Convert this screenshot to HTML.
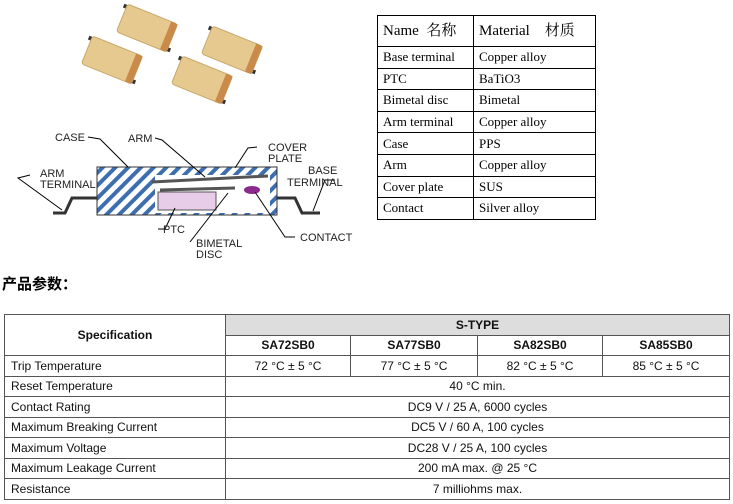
<!DOCTYPE html>
<html><head><meta charset="utf-8"><style>
body{margin:0;width:733px;height:504px;background:#fff;position:relative;overflow:hidden;font-family:"Liberation Sans",sans-serif}
.t1{position:absolute;left:377px;top:15px;border-collapse:collapse;font-family:"Liberation Serif","Noto Serif CJK SC",serif;font-size:13px}
.t1 td{border:1px solid #000;padding:0 0 0 5px;height:20.6px;line-height:14px}
.t1 tr:first-child td{height:30px;font-size:15px}
.t2{position:absolute;left:4px;top:314px;border-collapse:collapse;font-size:12px;color:#111}
.t2 td{border:1px solid #555;height:19.5px;padding:0;text-align:center}
.t2 td.l{text-align:left;padding-left:6px}
.t2 .h{font-weight:bold;background:#ddd}
</style></head><body>
<svg width="370" height="270" style="position:absolute;left:0;top:0" font-family="Liberation Sans" font-size="11">
<defs><pattern id="hp" width="9" height="9" patternUnits="userSpaceOnUse" patternTransform="rotate(45)"><rect width="9" height="9" fill="#fff"/><rect width="4" height="9" fill="#3d6fb0"/></pattern>
<g id="chip"><rect x="-30" y="-14" width="6" height="4" fill="#333"/><rect x="24" y="10" width="6" height="4" fill="#333"/><rect x="-27" y="-15" width="54" height="30" rx="3" fill="#e6c98e" stroke="#c9a86a"/><rect x="20" y="-15" width="7" height="30" fill="#c98a4a"/></g></defs>
<use href="#chip" transform="translate(147,28) rotate(22)"/>
<use href="#chip" transform="translate(232,50) rotate(22)"/>
<use href="#chip" transform="translate(112,60) rotate(22)"/>
<use href="#chip" transform="translate(202,80) rotate(22)"/>
<rect x="97" y="167" width="180" height="48" fill="url(#hp)" stroke="#333"/>
<rect x="155" y="175" width="115" height="38" fill="#fff"/>
<rect x="158" y="192" width="58" height="18" fill="#e8cde8" stroke="#555"/>
<path d="M152 182 L268 176 M160 190 L235 188" stroke="#555" stroke-width="3" fill="none"/>
<ellipse cx="252" cy="190" rx="8" ry="4" fill="#8a2a8a"/>
<path d="M53 213 H65 L72 198 H97 M277 198 H295 L302 213 H320" stroke="#333" stroke-width="3" fill="none"/>
<g stroke="#000" fill="none"><path d="M88 137 L100 139 L128 167"/><path d="M155 138 L162 140 L205 177"/><path d="M257 147 L248 148 L235 168"/><path d="M335 180 L325 180 L313 211"/><path d="M30 175 L18 178 L62 210"/><path d="M158 229 L165 229 L175 208"/><path d="M190 242 L228 193"/><path d="M295 237 L285 237 L255 192"/></g>
<g fill="#222"><text x="55" y="141">CASE</text><text x="128" y="142">ARM</text><text x="268" y="151">COVER</text><text x="268" y="162">PLATE</text><text x="308" y="174">BASE</text><text x="287" y="186">TERMINAL</text><text x="40" y="177">ARM</text><text x="40" y="188">TERMINAL</text><text x="163" y="233">PTC</text><text x="196" y="247">BIMETAL</text><text x="196" y="258">DISC</text><text x="300" y="241">CONTACT</text></g>
</svg>
<table class="t1">
<tr><td style="width:90px">Name&nbsp; 名称</td><td style="width:116px">Material&nbsp;&nbsp;&nbsp; 材质</td></tr>
<tr><td>Base terminal</td><td>Copper alloy</td></tr>
<tr><td>PTC</td><td>BaTiO3</td></tr>
<tr><td>Bimetal disc</td><td>Bimetal</td></tr>
<tr><td>Arm terminal</td><td>Copper alloy</td></tr>
<tr><td>Case</td><td>PPS</td></tr>
<tr><td>Arm</td><td>Copper alloy</td></tr>
<tr><td>Cover plate</td><td>SUS</td></tr>
<tr><td>Contact</td><td>Silver alloy</td></tr>
</table>
<div style="position:absolute;left:2px;top:273px;font-size:15px;font-weight:bold;font-family:'Liberation Sans','Noto Sans CJK SC',sans-serif">产品参数：</div>
<table class="t2">
<tr><td rowspan="2" style="width:220px;font-weight:bold">Specification</td><td colspan="4" class="h">S-TYPE</td></tr>
<tr><td style="width:124px;font-weight:bold">SA72SB0</td><td style="width:126px;font-weight:bold">SA77SB0</td><td style="width:124px;font-weight:bold">SA82SB0</td><td style="width:126px;font-weight:bold">SA85SB0</td></tr>
<tr><td class="l">Trip Temperature</td><td>72 °C ± 5 °C</td><td>77 °C ± 5 °C</td><td>82 °C ± 5 °C</td><td>85 °C ± 5 °C</td></tr>
<tr><td class="l">Reset Temperature</td><td colspan="4">40 °C min.</td></tr>
<tr><td class="l">Contact Rating</td><td colspan="4">DC9 V / 25 A, 6000 cycles</td></tr>
<tr><td class="l">Maximum Breaking Current</td><td colspan="4">DC5 V / 60 A, 100 cycles</td></tr>
<tr><td class="l">Maximum Voltage</td><td colspan="4">DC28 V / 25 A, 100 cycles</td></tr>
<tr><td class="l">Maximum Leakage Current</td><td colspan="4">200 mA max. @ 25 °C</td></tr>
<tr><td class="l">Resistance</td><td colspan="4">7 milliohms max.</td></tr>
</table>
</body></html>
